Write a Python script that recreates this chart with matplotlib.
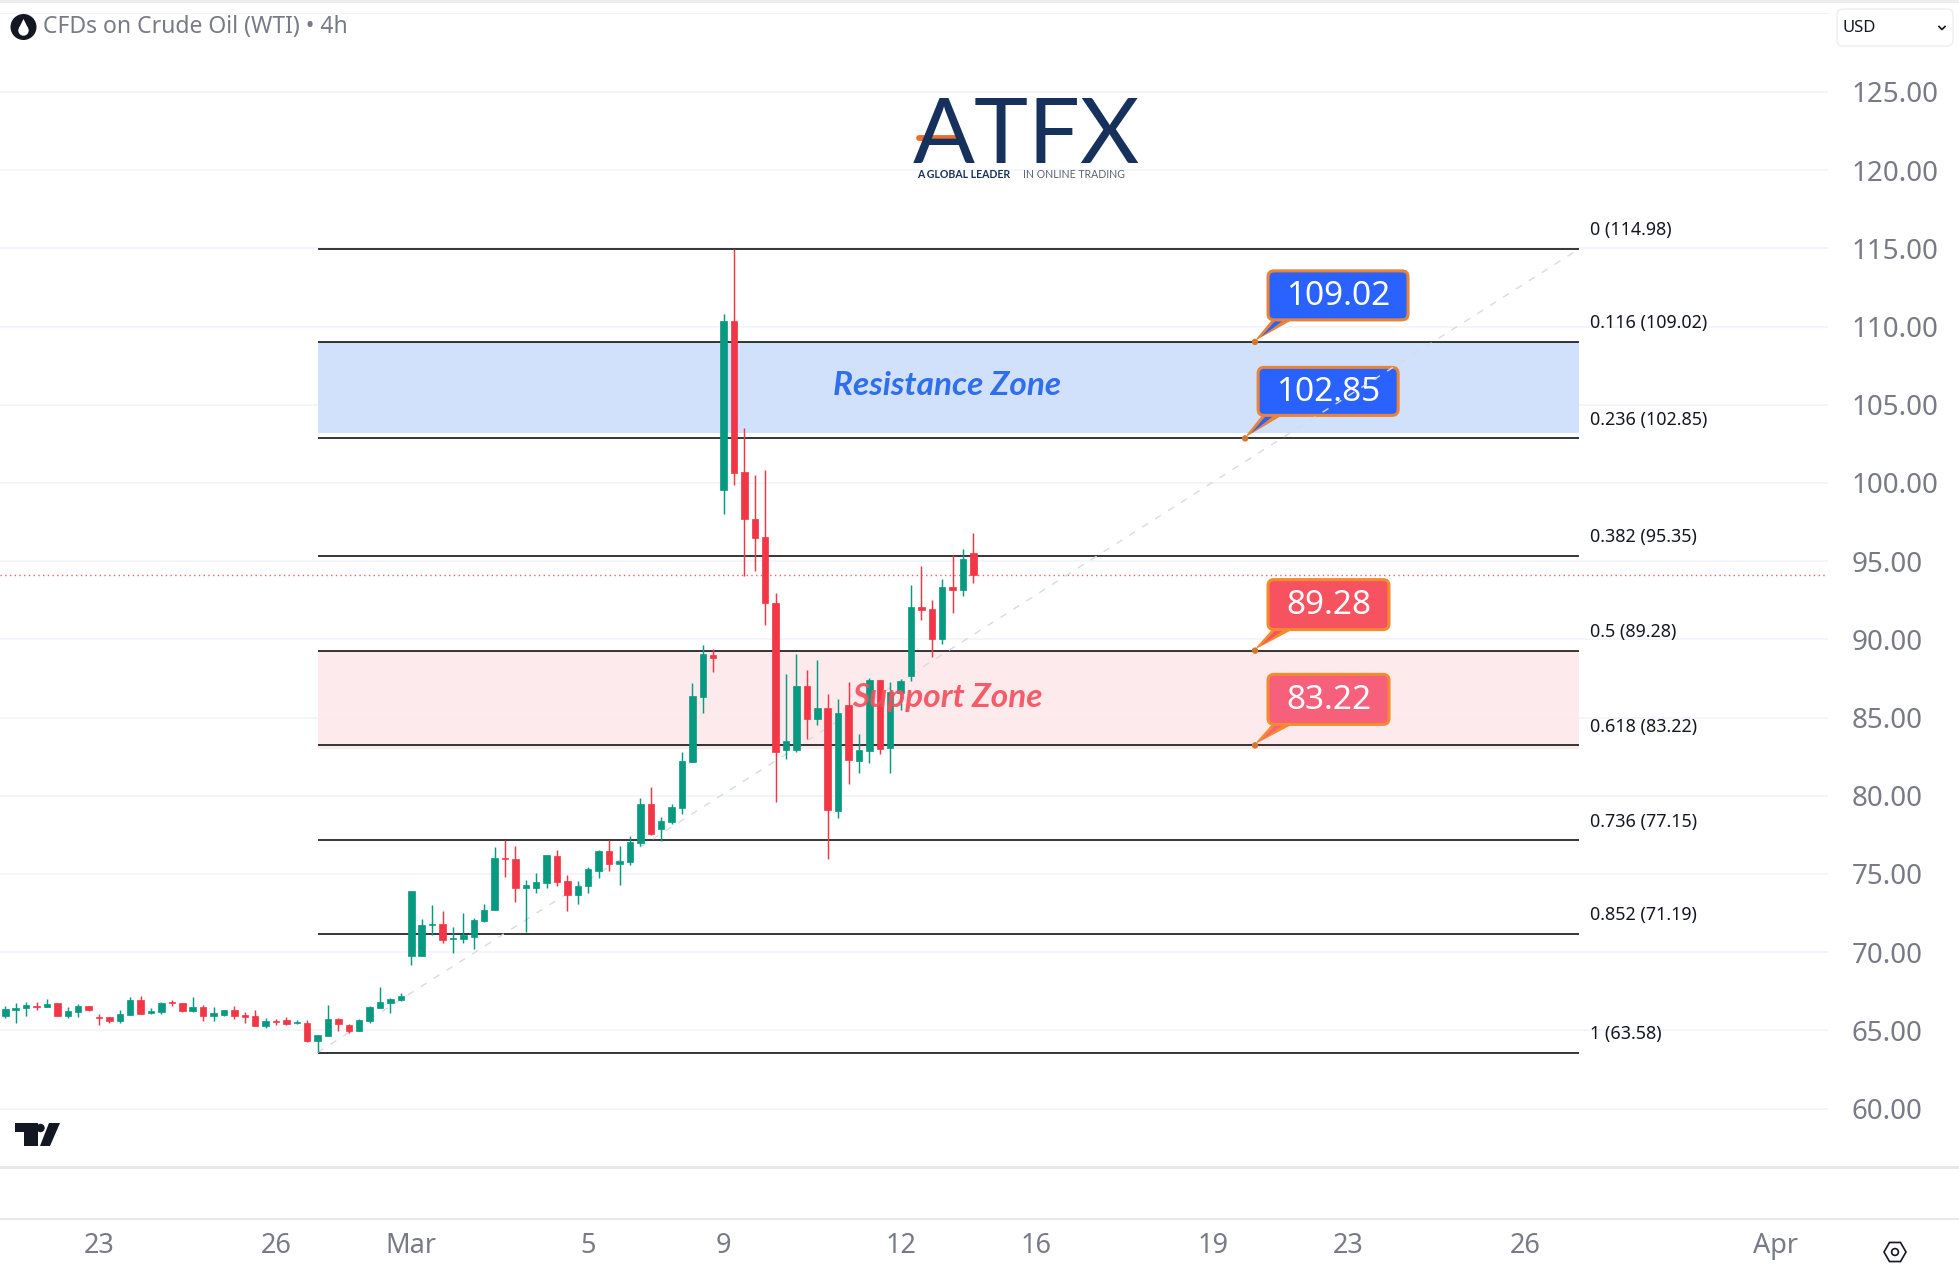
import matplotlib
matplotlib.use('Agg')
import matplotlib.pyplot as plt
from matplotlib.patches import FancyBboxPatch, Polygon, Circle, RegularPolygon, Rectangle
from matplotlib.transforms import IdentityTransform

opens = [65.91,66.30,66.43,66.57,66.49,66.75,65.91,66.17,66.55,65.87,65.85,65.59,65.98,66.94,66.11,66.17,66.81,66.75,66.23,66.49,
         65.91,65.98,66.30,65.98,65.91,65.27,65.59,65.65,65.49,65.47,64.32,64.64,65.72,65.34,64.96,65.59,66.43,66.75,66.94,69.75,
         69.75,71.73,71.80,70.84,70.84,70.97,71.99,72.69,76.02,75.95,74.10,74.10,74.42,76.14,74.55,73.65,74.23,75.18,76.46,75.63,
         75.76,76.97,79.47,77.87,78.32,79.21,82.16,86.31,88.99,99.55,110.35,100.70,97.69,96.54,92.32,82.92,82.92,87.02,84.90,85.61,
         79.03,85.80,82.22,82.86,87.40,83.05,86.57,87.66,92.07,91.94,90.02,93.35,93.15,95.52]
highs = [66.55,66.75,66.81,66.81,67.00,66.75,66.49,66.68,66.55,66.04,65.85,66.30,67.13,67.19,66.43,66.81,66.94,66.75,67.13,66.62,
         66.49,66.30,66.55,66.17,66.30,65.79,65.72,65.85,65.65,65.65,64.70,66.62,65.79,65.40,65.72,66.55,67.77,67.07,67.38,73.91,
         72.12,73.01,72.63,71.61,72.50,72.18,73.07,76.72,77.17,76.78,74.61,75.06,76.21,76.53,74.93,74.55,75.44,76.53,77.17,76.78,
         77.42,79.85,80.56,78.64,79.47,82.79,87.21,89.64,89.38,110.80,114.98,103.51,100.50,100.82,92.96,87.78,89.06,88.04,88.68,86.50,
         86.18,87.27,83.95,87.53,87.40,87.27,87.46,93.47,94.69,92.51,93.86,95.39,95.78,96.80]
lows = [65.79,65.49,65.93,66.30,66.49,65.91,65.79,65.85,66.23,65.34,65.47,65.47,65.98,66.04,66.04,66.04,66.55,66.17,66.17,65.59,
        65.59,65.91,65.72,65.47,65.27,65.15,65.34,65.34,65.40,64.25,63.59,64.64,64.96,64.83,64.96,65.47,66.43,66.11,66.87,69.17,
        69.75,71.09,70.58,69.94,70.58,70.20,71.92,72.69,74.80,73.20,71.28,73.78,74.10,74.23,72.63,73.07,73.78,74.74,75.18,74.29,
        75.57,76.78,77.49,77.10,78.19,78.83,82.16,85.29,87.91,98.01,99.86,94.05,94.37,90.91,79.60,82.35,82.80,83.63,84.52,75.96,
        78.58,80.75,81.45,82.09,82.67,81.45,85.48,87.34,91.24,88.87,89.70,91.68,92.77,93.60]
closes = [66.36,66.40,66.62,66.51,66.68,65.91,66.23,66.55,66.30,65.81,65.59,66.04,66.94,66.04,66.23,66.75,66.75,66.23,66.49,65.91,
          66.11,66.30,65.91,65.87,65.27,65.59,65.53,65.40,65.55,64.32,64.70,65.72,65.40,64.96,65.65,66.49,66.81,67.00,67.19,73.91,
          71.73,71.80,70.77,70.90,71.09,72.05,72.69,76.02,75.95,74.10,74.29,74.48,76.21,74.48,73.65,74.23,75.31,76.46,75.63,75.82,
          77.04,79.47,77.55,78.38,79.28,82.22,86.37,89.06,88.80,110.35,100.63,97.69,96.48,92.32,82.80,83.50,87.02,84.90,85.61,79.09,
          85.29,82.28,82.92,87.40,82.99,86.63,87.34,92.07,91.87,90.02,93.35,93.15,95.14,94.11]

fib_prices = [114.98,109.02,102.85,95.35,89.28,83.22,77.15,71.19,63.58]
fib_labels = ['0 (114.98)','0.116 (109.02)','0.236 (102.85)','0.382 (95.35)','0.5 (89.28)',
              '0.618 (83.22)','0.736 (77.15)','0.852 (71.19)','1 (63.58)']
price_ticks = [60,65,70,75,80,85,90,95,100,105,110,115,120,125]
date_pos = [9,26,39,56,69,86,99,116,129,146,170]
date_labels = ['23','26','Mar','5','9','12','16','19','23','26','Apr']
last_price = 94.11

GREEN = '#089981'
RED = '#F23645'
GREY = '#787B86'
W, H = 1959, 1283

plt.rcParams['font.family'] = ['Noto Sans', 'DejaVu Sans']
fig = plt.figure(figsize=(W/100, H/100), dpi=100)
ax = fig.add_axes([0, 1-1167/H, 1828/W, (1167-13)/H])
ax.set_xlim(-0.51, 175.09)
ax.set_ylim(56.26, 130.05)
for s in ['left','right','bottom']:
    ax.spines[s].set_visible(False)
ax.spines['top'].set_color('#F0F3FA')

ax.set_yticks(price_ticks)
ax.set_yticklabels(['%.2f' % p for p in price_ticks], fontsize=20, color=GREY)
ax.yaxis.tick_right()
ax.tick_params(axis='y', length=0, pad=17)
ax.grid(axis='y', color='#F0F3FA', lw=1.1, zorder=0)
ax.set_axisbelow(True)
ax.set_xticks(date_pos)
ax.set_xticklabels(date_labels, fontsize=19.5, color=GREY)
ax.tick_params(axis='x', length=0, pad=47)
for t in ax.get_xticklabels():
    if t.get_text() in ('Mar','Apr'):
        t.set_fontweight('bold')

# zones
fib_l, fib_r = 30, 151.2
ax.fill_between([fib_l, fib_r], 103.21, fib_prices[1], color='#CFE0FB', lw=0, alpha=0.95, zorder=1)
ax.fill_between([fib_l, fib_r], 83.0, fib_prices[4], color='#FDE9EB', lw=0, alpha=0.95, zorder=1)

# fib levels
for p, lab in zip(fib_prices, fib_labels):
    ax.plot([fib_l, fib_r], [p, p], color='black', lw=1.1, zorder=2, solid_capstyle='butt')
    ax.annotate(lab, xy=(152.2, p), xytext=(0, 13.5), textcoords='offset points',
                fontsize=12.9, color='#131722', va='center', ha='left', zorder=6)

ax.axhline(last_price, color=RED, lw=1, ls=(0, (1, 2.4)), alpha=0.8, zorder=2)


def callout(x, y, box, fc, ec, label):
    # box = left, top, right, bottom in pixels away from the anchor
    ox, oy = ax.transData.transform((x, y))
    l, t, r, b = box
    tr = IdentityTransform()
    tail = Polygon([(ox+2, oy+3), (ox+l+4, oy+b-1), (ox+l+21, oy+b-1)], closed=True,
                   fc=ec, ec=ec, lw=1, transform=tr, zorder=3)
    ax.add_patch(tail)
    ax.add_patch(Polygon([(ox+6, oy+5), (ox+l+8, oy+b), (ox+l+16, oy+b)], closed=True,
                         fc=fc, ec='none', transform=tr, zorder=3.1))
    ax.add_patch(Circle((ox, oy), 3.2, fc='#D2762F', ec='none', transform=tr, zorder=3.2))
    ax.add_patch(FancyBboxPatch((ox+l+5, oy+b+5), r-l-10, t-b-10,
                                boxstyle='round,pad=5,rounding_size=6', fc=fc, ec=ec, lw=2.2,
                                transform=tr, zorder=3.2))
    ax.text(ox+(l+r)/2, oy+(t+b)/2-1, label, color='white', fontsize=24, fontweight='bold',
            ha='center', va='center', transform=tr, zorder=3.3)


callout(120.05, 109.02, (13, 71, 153, 22), '#2962FF', '#E8833A', '109.02')
callout(119.1, 102.85, (13, 71, 153, 23), '#2962FF', '#E8833A', '102.85')
callout(120.05, 89.28, (13, 71, 134, 21), '#F7525F', '#F58A2E', '89.28')
callout(120.05, 83.22, (13, 71, 134, 21), '#F7607A', '#F58A2E', '83.22')

# trend line of the fib tool
ax.plot([fib_l, fib_r], [fib_prices[-1], fib_prices[0]], color='#D8DBE3', lw=1, ls=(0, (5, 6)), zorder=4)

# candles
idx = list(range(len(opens)))
for i in idx:
    col = GREEN if closes[i] >= opens[i] else RED
    ax.plot([i, i], [lows[i], highs[i]], color=col, lw=1.05, zorder=5, solid_capstyle='butt')
    ax.bar(i, abs(closes[i]-opens[i]), bottom=min(opens[i], closes[i]), width=0.62,
           color=col, edgecolor=col, lw=0.5, zorder=5)

ax.text(90.5, 106.26, 'Resistance Zone', family='Lato', style='italic', fontweight='bold',
        fontsize=24, color='#2F6FEB', ha='center', va='center', zorder=6)
ax.text(90.5, 86.31, 'Support Zone', family='Lato', style='italic', fontweight='bold',
        fontsize=24, color='#F4505F', alpha=0.92, ha='center', va='center', zorder=6)


def px(x, y):
    return x, H-y


tr = IdentityTransform()


def add(patch):
    patch.set_transform(tr)
    fig.add_artist(patch)


# chrome
add(Rectangle(px(0, 3), W, 3, fc='#EDEDED', ec='none'))
add(Rectangle(px(0, 1168.5), W, 2.4, fc='#E6E7EB', ec='none'))
add(Rectangle(px(0, 1219.5), W, 1.2, fc='#E6E7EB', ec='none'))

add(Circle(px(23.5, 27), 13, fc='#131722', ec='none'))
add(Circle(px(23.5, 30.5), 5.2, fc='white', ec='none'))
add(Polygon([px(23.5, 19), px(19, 28), px(28, 28)], closed=True, fc='white', ec='none'))
fig.text(43/W, 1-27/H, 'CFDs on Crude Oil (WTI) • 4h', fontsize=16.5, color=GREY, va='center', ha='left')

add(FancyBboxPatch(px(1840, 43), 110, 31, boxstyle='round,pad=3,rounding_size=6', fc='white', ec='#EEEEF0', lw=1))
fig.text(1842/W, 1-28/H, 'USD', fontsize=12, color='#131722', va='center', ha='left')
fig.add_artist(plt.Line2D([1939/W, 1942/W, 1945/W], [1-26.5/H, 1-29.5/H, 1-26.5/H], color='#131722', lw=1.2))

# logo
fig.text(1026/W, 1-163/H, 'ATFX', family='Lato', fontsize=66, color='#16325C', ha='center', va='baseline')
fig.add_artist(plt.Line2D([919/W, 960/W], [1-138/H, 1-138/H], color='#F26B2A', lw=4.2, solid_capstyle='round'))
fig.text(917/W, 1-175/H, 'A GLOBAL LEADER', family='Lato', fontweight='bold', fontsize=7.6, color='#16325C', va='center')
fig.text(1023/W, 1-175/H, 'IN ONLINE TRADING', family='Lato', fontsize=7.6, color='#5A6472', va='center')

# tradingview mark
add(Polygon([px(15, 1123), px(38, 1123), px(38, 1146), px(24, 1146), px(24, 1132), px(15, 1132)],
            closed=True, fc='#131722', ec='none'))
add(Circle(px(40.5, 1128), 4.2, fc='#131722', ec='none'))
add(Polygon([px(49, 1123), px(60, 1123), px(50, 1146), px(40, 1146)], closed=True, fc='#131722', ec='none'))

# settings icon
add(RegularPolygon(px(1895, 1252), 6, radius=11, orientation=0.5236, fc='white', ec='#131722', lw=1.2))
add(Circle(px(1895, 1252), 3.4, fc='white', ec='#131722', lw=1.2))

fig.savefig('out.png', dpi=100)
